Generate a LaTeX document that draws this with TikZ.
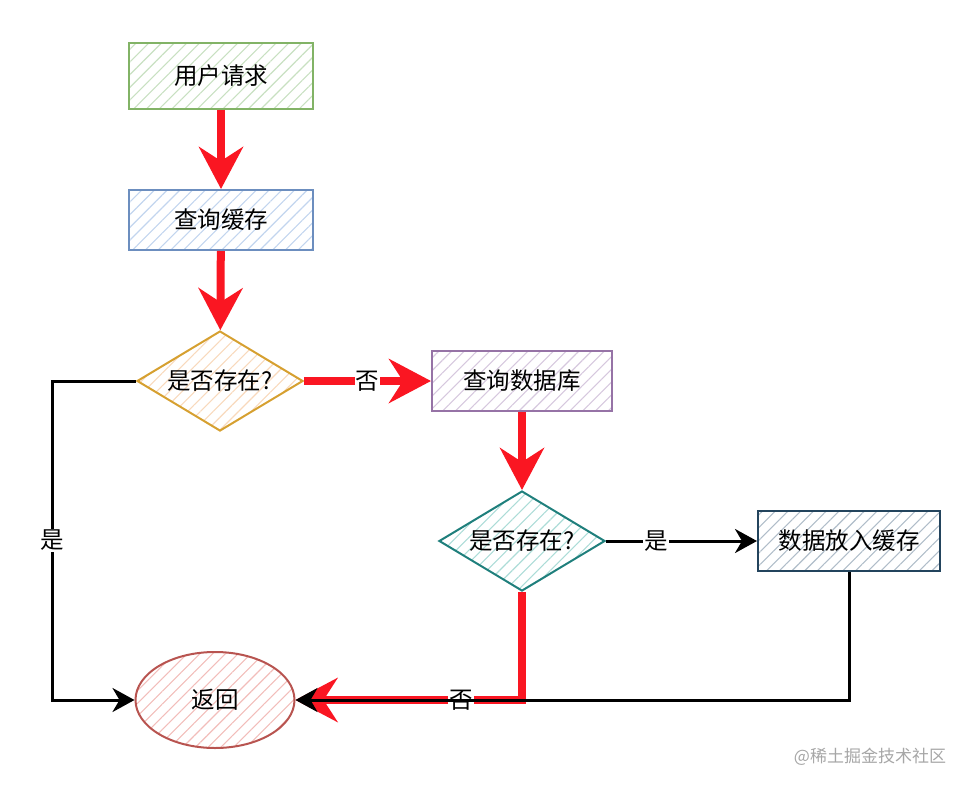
\documentclass[tikz,border=0pt]{standalone}
\usepackage{fontspec}
\setmainfont{Noto Sans CJK SC}
\usepackage{xcolor}
\usetikzlibrary{arrows.meta,positioning,shapes.geometric,patterns.meta}
\definecolor{flow-red}{HTML}{FA1622}
\definecolor{g-stroke}{HTML}{82B366}
\definecolor{g-hatch}{HTML}{C8E0C1}
\definecolor{b-stroke}{HTML}{6C8EBF}
\definecolor{b-hatch}{HTML}{C2D5EE}
\definecolor{y-stroke}{HTML}{D6A030}
\definecolor{y-hatch}{HTML}{F8D9BC}
\definecolor{p-stroke}{HTML}{9673A6}
\definecolor{p-hatch}{HTML}{D6C8DE}
\definecolor{t-stroke}{HTML}{1F7F7C}
\definecolor{t-hatch}{HTML}{ACDCD7}
\definecolor{s-stroke}{HTML}{23445D}
\definecolor{s-hatch}{HTML}{B0BDC9}
\definecolor{r-stroke}{HTML}{B85450}
\definecolor{r-hatch}{HTML}{F2BDBA}

\begin{document}
\begin{tikzpicture}[
    x=1pt, y=-1pt,
    font=\fontsize{23.5}{28}\selectfont,
    hatch/.style={pattern={Lines[angle=45,distance=9pt,line width=1.1pt]}, pattern color=#1},
    box/.style={rectangle, line width=2pt, minimum width=184pt, minimum height=60pt,
                inner sep=0pt, align=center},
    decision/.style={diamond, line width=2pt, minimum width=166pt, minimum height=100pt,
                     aspect=1.7, inner sep=0pt},
    bigarrow/.style={-{Stealth[length=42pt, width=44pt, inset=14pt]}, line width=8pt, flow-red},
    arrow/.style={-{Stealth[length=22pt, width=24pt, inset=7pt]}, line width=3pt, black},
    lbl/.style={fill=white, inner sep=1pt, text=black}
]
  \useasboundingbox (0,0) rectangle (972,790);

  % Request
  \node[box, draw=g-stroke, hatch=g-hatch, minimum height=66pt] (req) at (221,76) {用户请求};

  % Cache lookup
  \node[box, draw=b-stroke, hatch=b-hatch] (cache) at (221,220) {查询缓存};

  % First check
  \node[decision, draw=y-stroke, hatch=y-hatch] (hit) at (220,381) {是否存在?};

  % Database lookup
  \node[box, draw=p-stroke, hatch=p-hatch, minimum width=180pt] (db) at (522,381) {查询数据库};

  % Second check
  \node[decision, draw=t-stroke, hatch=t-hatch] (found) at (522,541) {是否存在?};

  % Put into cache
  \node[box, draw=s-stroke, hatch=s-hatch, minimum width=182pt] (put) at (849,541) {数据放入缓存};

  % Return
  \node[ellipse, line width=2pt, draw=r-stroke, hatch=r-hatch, minimum width=159pt,
        minimum height=96pt, inner sep=0pt] (ret) at (215,700) {返回};

  % Corners of the left loop
  \coordinate (lt) at (52,381);
  \coordinate (lb) at (52,700);

  % Arrows
  \draw[bigarrow] (req) -- (cache);
  \draw[bigarrow] (cache) -- (hit);
  \draw[bigarrow] (hit) -- node[lbl, pos=0.5] {否} (db);
  \draw[bigarrow] (db) -- (found);
  \draw[bigarrow] (found.south) |- node[lbl, pos=0.635] {否} (ret.east);
  \draw[arrow] (found) -- node[lbl, pos=0.33] {是} (put);
  \draw[arrow] (put.south) |- (ret.east);
  \draw[arrow] (hit.west) -- (lt) -- node[lbl] {是} (lb) -- (ret.west);

  % Watermark
  \node[text=gray!70, font=\fontsize{17}{20}\selectfont] (mark) at (870,757) {@稀土掘金技术社区};

\end{tikzpicture}
\end{document}
